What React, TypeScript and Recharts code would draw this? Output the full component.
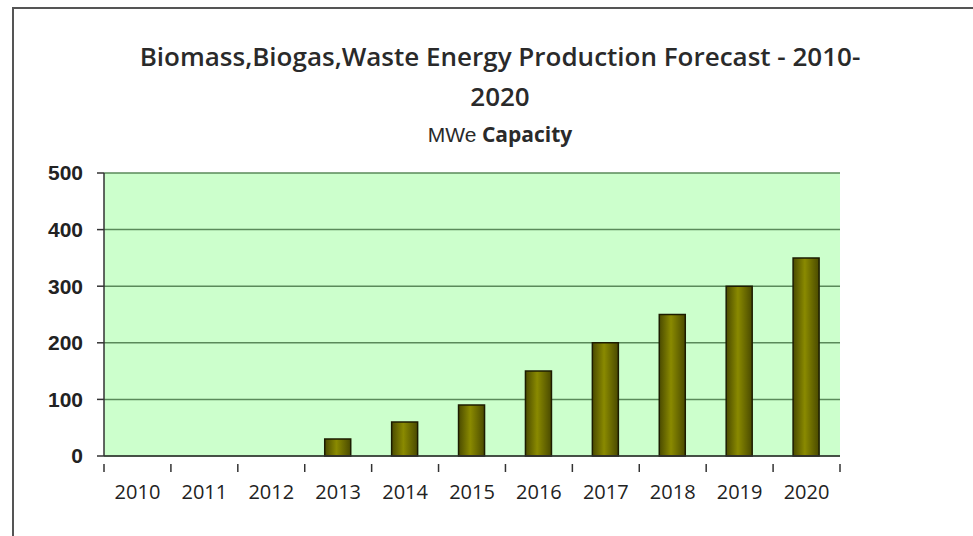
import React from "react";
import { BarChart, Bar, XAxis, YAxis, CartesianGrid } from "recharts";

const years = ["2010", "2011", "2012", "2013", "2014", "2015", "2016", "2017", "2018", "2019", "2020"];
const capacity = [0, 0, 0, 30, 60, 90, 150, 200, 250, 300, 350];
const yTicks = [0, 100, 200, 300, 400, 500];

const data = years.map((y, i) => ({ year: y, mwe: capacity[i] }));

const W = 973;
const H = 536;
const PLOT_LEFT = 104;
const PLOT_RIGHT = 840;
const PLOT_TOP = 173;
const PLOT_BOTTOM = 456;
const Y_AXIS_W = 70;
const X_AXIS_H = 50;

// x tick: label at band centre, tick mark at band boundary (like Excel)
const XTick = (props: any) => {
  const { x, y, payload, index } = props;
  const step = (PLOT_RIGHT - PLOT_LEFT) / years.length;
  const left = x - step / 2;
  return (
    <g>
      <line x1={left} x2={left} y1={y} y2={y + 8} stroke="#333" strokeWidth={1.5} />
      {index === years.length - 1 && (
        <line x1={left + step} x2={left + step} y1={y} y2={y + 8} stroke="#333" strokeWidth={1.5} />
      )}
      <text
        x={x}
        y={y + 35}
        textAnchor="middle"
        fontFamily="'Open Sans', sans-serif"
        fontSize={20}
        fill="#222"
      >
        {payload.value}
      </text>
    </g>
  );
};

export default function App() {
  return (
    <div
      style={{
        position: "absolute",
        left: 0,
        top: 0,
        width: W,
        height: H,
        background: "#fff",
        overflow: "hidden",
      }}
    >
      {/* outer frame */}
      <div
        style={{
          position: "absolute",
          left: 12,
          top: 7,
          width: W,
          height: H,
          borderLeft: "2px solid #555",
          borderTop: "2px solid #555",
        }}
      />
      <div
        style={{
          position: "absolute",
          left: 0,
          width: 1000,
          top: 36,
          textAlign: "center",
          fontFamily: "'Open Sans', sans-serif",
          color: "#2a2a2a",
        }}
      >
        <div style={{ fontSize: 26, lineHeight: "40px", fontWeight: 600 }}>
          Biomass,Biogas,Waste Energy Production Forecast - 2010-
        </div>
        <div style={{ fontSize: 26, lineHeight: "40px", fontWeight: 600 }}>2020</div>
        <div style={{ fontSize: 21, lineHeight: "36px" }}>
          <span style={{ fontFamily: "'Liberation Sans', Arial, sans-serif" }}>MWe</span>{" "}
          <b>Capacity</b>
        </div>
      </div>
      <div style={{ position: "absolute", left: 0, top: 0 }}>
        <BarChart
          width={W}
          height={H}
          data={data}
          barSize={26}
          margin={{
            top: PLOT_TOP,
            left: PLOT_LEFT - Y_AXIS_W,
            right: W - PLOT_RIGHT,
            bottom: H - PLOT_BOTTOM - X_AXIS_H,
          }}
        >
          <defs>
            <linearGradient id="olive" x1="0" y1="0" x2="1" y2="0">
              <stop offset="0%" stopColor="#4a4a00" />
              <stop offset="45%" stopColor="#8a8a00" />
              <stop offset="100%" stopColor="#4a4a00" />
            </linearGradient>
          </defs>
          <CartesianGrid
            yAxisId="left"
            vertical={false}
            fill="#ccffcc"
            fillOpacity={1}
            stroke="#5a8a5a"
            strokeWidth={1.5}
            strokeOpacity={1}
          />
          <XAxis
            dataKey="year"
            axisLine={{ stroke: "#333", strokeWidth: 1.5 }}
            tickLine={false}
            tick={<XTick />}
            interval={0}
            height={X_AXIS_H}
          />
          <YAxis
            yAxisId="left"
            domain={[0, 500]}
            ticks={yTicks}
            width={Y_AXIS_W}
            axisLine={{ stroke: "#333", strokeWidth: 1.5 }}
            tickLine={{ stroke: "#333", strokeWidth: 1.5 }}
            tickSize={7}
            tickMargin={14}
            tick={{
              fill: "#222",
              fontSize: 21,
              fontWeight: 700,
              fontFamily: "'Liberation Sans', Arial, sans-serif",
            }}
          />
          <YAxis
            yAxisId="right"
            orientation="right"
            domain={[0, 500]}
            width={0}
            tick={false}
            tickLine={false}
            axisLine={{ stroke: "#aaa", strokeWidth: 1.5 }}
          />
          <Bar
            yAxisId="left"
            dataKey="mwe"
            fill="url(#olive)"
            stroke="#1c1c00"
            strokeWidth={1.5}
            isAnimationActive={false}
          />
        </BarChart>
      </div>
    </div>
  );
}
